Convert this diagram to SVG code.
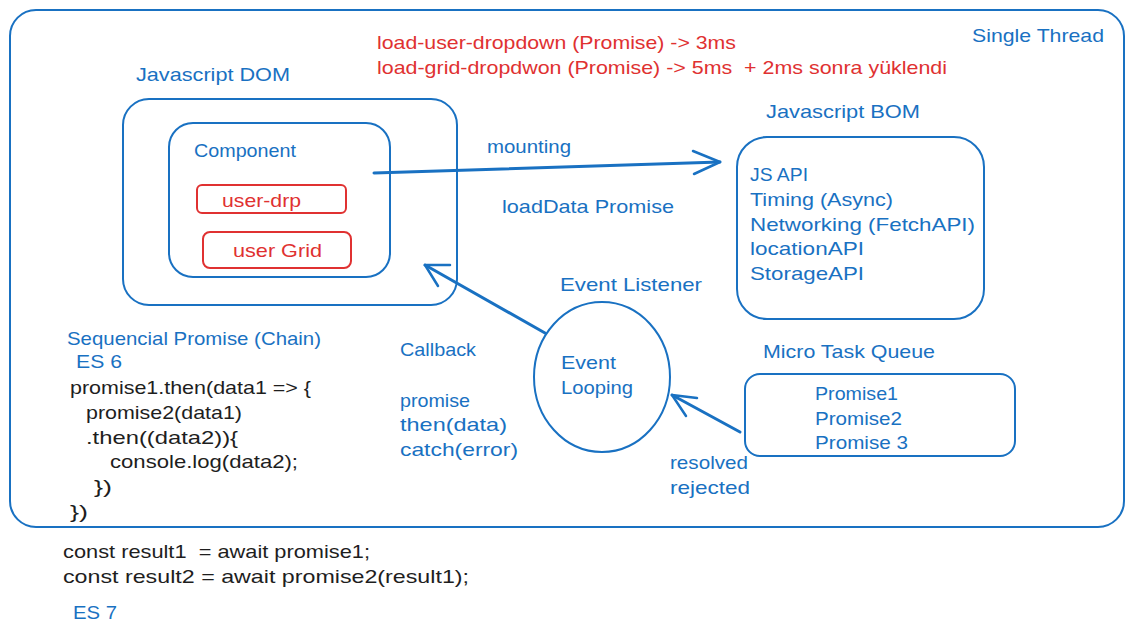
<svg xmlns="http://www.w3.org/2000/svg" width="1134" height="636" viewBox="0 0 1134 636">
<defs>
<style>
.b{fill:none;stroke:#1971c2;stroke-width:2;stroke-linecap:round;stroke-linejoin:round}
.r{fill:none;stroke:#e03131;stroke-width:2}
.c{fill:none;stroke:#1971c2;stroke-width:3;stroke-linecap:round;stroke-linejoin:round}
text{font-family:"Liberation Sans","DejaVu Sans",sans-serif;font-size:19px;white-space:pre}
.tb{fill:#1971c2}
.tr{fill:#e03131}
.tk{fill:#1e1e1e}
</style>
</defs>
<rect width="1134" height="636" fill="#ffffff"/>
<g id="frame">
<rect class="b" x="10" y="10" width="1114" height="517" rx="26"/>
<text class="tb" x="972" y="42" textLength="132" lengthAdjust="spacingAndGlyphs">Single Thread</text>
</g>
<g id="notes">
<text class="tr" x="377" y="49" textLength="359" lengthAdjust="spacingAndGlyphs">load-user-dropdown (Promise) -&gt; 3ms</text>
<text class="tr" x="377" y="74" textLength="570" lengthAdjust="spacingAndGlyphs">load-grid-dropdwon (Promise) -&gt; 5ms  + 2ms sonra yüklendi</text>
</g>
<g id="dom">
<text class="tb" x="136" y="81" textLength="154" lengthAdjust="spacingAndGlyphs">Javascript DOM</text>
<rect class="b" x="123" y="99" width="334" height="206" rx="26"/>
</g>
<g id="component">
<rect class="b" x="169" y="123" width="221" height="154" rx="24"/>
<text class="tb" x="194" y="157" textLength="102" lengthAdjust="spacingAndGlyphs">Component</text>
</g>
<g id="user-drp">
<rect class="r" x="197" y="185" width="149" height="28" rx="5"/>
<text class="tr" x="222" y="207" textLength="79" lengthAdjust="spacingAndGlyphs">user-drp</text>
</g>
<g id="user-grid">
<rect class="r" x="203" y="232" width="148" height="36" rx="7"/>
<text class="tr" x="233" y="257" textLength="89" lengthAdjust="spacingAndGlyphs">user Grid</text>
</g>
<g id="bom">
<text class="tb" x="766" y="118" textLength="154" lengthAdjust="spacingAndGlyphs">Javascript BOM</text>
<rect class="b" x="737" y="137" width="247" height="182" rx="30"/>
<text class="tb" x="750" y="181" textLength="58" lengthAdjust="spacingAndGlyphs">JS API</text>
<text class="tb" x="750" y="206" textLength="143" lengthAdjust="spacingAndGlyphs">Timing (Async)</text>
<text class="tb" x="750" y="231" textLength="225" lengthAdjust="spacingAndGlyphs">Networking (FetchAPI)</text>
<text class="tb" x="750" y="255" textLength="114" lengthAdjust="spacingAndGlyphs">locationAPI</text>
<text class="tb" x="750" y="280" textLength="114" lengthAdjust="spacingAndGlyphs">StorageAPI</text>
</g>
<g id="event-loop">
<text class="tb" x="560" y="291" textLength="142" lengthAdjust="spacingAndGlyphs">Event Listener</text>
<ellipse class="b" cx="602" cy="377" rx="68" ry="75"/>
<text class="tb" x="561" y="369" textLength="55" lengthAdjust="spacingAndGlyphs">Event</text>
<text class="tb" x="561" y="394" textLength="72" lengthAdjust="spacingAndGlyphs">Looping</text>
</g>
<g id="micro-task-queue">
<text class="tb" x="763" y="358" textLength="172" lengthAdjust="spacingAndGlyphs">Micro Task Queue</text>
<rect class="b" x="745" y="374" width="270" height="82" rx="15"/>
<text class="tb" x="815" y="400" textLength="83" lengthAdjust="spacingAndGlyphs">Promise1</text>
<text class="tb" x="815" y="425" textLength="87" lengthAdjust="spacingAndGlyphs">Promise2</text>
<text class="tb" x="815" y="449" textLength="93" lengthAdjust="spacingAndGlyphs">Promise 3</text>
</g>
<g id="connectors">
<path class="c" d="M374 173 L720 162"/>
<path class="b" d="M693 151 L720 162 L694 174" style="stroke-width:2.5"/>
<path class="c" d="M545 333 L425 265"/>
<path class="b" d="M450 265 L425 265 L438 286" style="stroke-width:2.5"/>
<path class="c" d="M740 432 L672 395"/>
<path class="b" d="M697 398 L672 395 L686 416" style="stroke-width:2.5"/>
</g>
<g id="labels">
<text class="tb" x="487" y="153" textLength="84" lengthAdjust="spacingAndGlyphs">mounting</text>
<text class="tb" x="502" y="213" textLength="172" lengthAdjust="spacingAndGlyphs">loadData Promise</text>
<text class="tb" x="400" y="356" textLength="76" lengthAdjust="spacingAndGlyphs">Callback</text>
<text class="tb" x="400" y="407" textLength="70" lengthAdjust="spacingAndGlyphs">promise</text>
<text class="tb" x="400" y="431" textLength="107" lengthAdjust="spacingAndGlyphs">then(data)</text>
<text class="tb" x="400" y="456" textLength="118" lengthAdjust="spacingAndGlyphs">catch(error)</text>
<text class="tb" x="670" y="469" textLength="78" lengthAdjust="spacingAndGlyphs">resolved</text>
<text class="tb" x="670" y="494" textLength="80" lengthAdjust="spacingAndGlyphs">rejected</text>
</g>
<g id="code">
<text class="tb" x="67" y="345" textLength="254" lengthAdjust="spacingAndGlyphs">Sequencial Promise (Chain)</text>
<text class="tb" x="76" y="368" textLength="46" lengthAdjust="spacingAndGlyphs">ES 6</text>
<text class="tk" x="70" y="394" textLength="241" lengthAdjust="spacingAndGlyphs">promise1.then(data1 =&gt; {</text>
<text class="tk" x="86" y="419" textLength="156" lengthAdjust="spacingAndGlyphs">promise2(data1)</text>
<text class="tk" x="86" y="444" textLength="152" lengthAdjust="spacingAndGlyphs">.then((data2)){</text>
<text class="tk" x="110" y="468" textLength="188" lengthAdjust="spacingAndGlyphs">console.log(data2);</text>
<text class="tk" x="94" y="493" textLength="18" lengthAdjust="spacingAndGlyphs">})</text>
<text class="tk" x="70" y="518" textLength="18" lengthAdjust="spacingAndGlyphs">})</text>
<text class="tk" x="63" y="558" textLength="307" lengthAdjust="spacingAndGlyphs">const result1  = await promise1;</text>
<text class="tk" x="63" y="583" textLength="406" lengthAdjust="spacingAndGlyphs">const result2 = await promise2(result1);</text>
<text class="tb" x="73" y="619" textLength="44" lengthAdjust="spacingAndGlyphs">ES 7</text>
</g>
</svg>
